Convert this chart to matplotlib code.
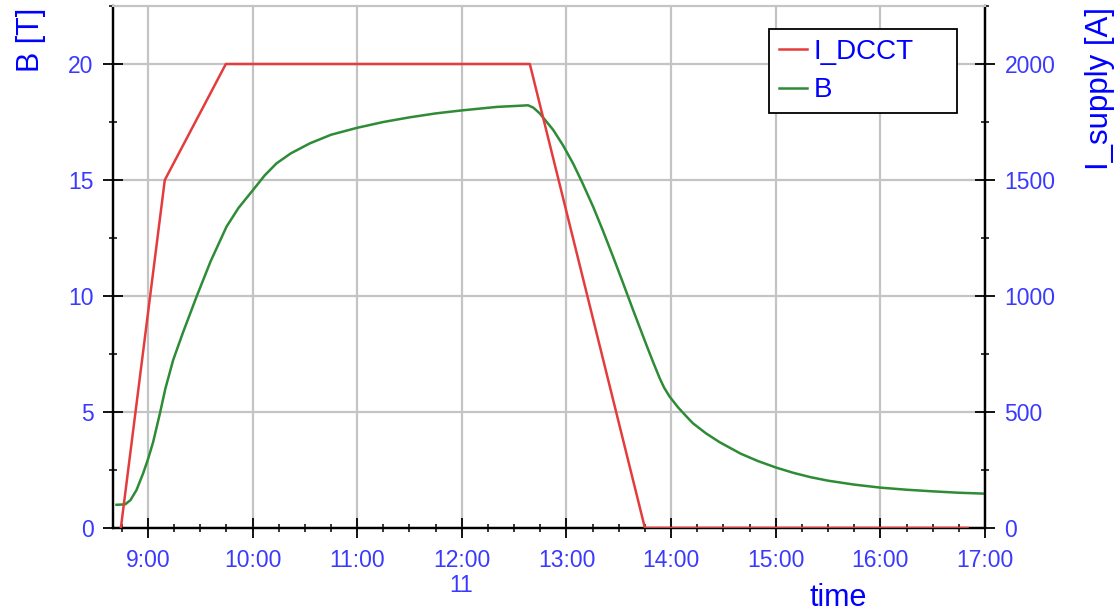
import matplotlib
matplotlib.use('Agg')
import matplotlib.pyplot as plt
from matplotlib.ticker import MultipleLocator, FuncFormatter

plt.rcParams['font.family'] = ['Liberation Sans', 'DejaVu Sans']

# I_DCCT [A] (right axis)
dcctTime = ['8:44.5', '9:09.7', '9:44.7', '12:39', '13:45', '16:50']
dcctAmp = [0, 1500, 2000, 2000, 0, 0]

# B [T] (left axis)
bTime = ['8:42', '8:47', '8:50', '8:53.5', '8:57.3', '9:00', '9:03', '9:06.9', '9:10',
         '9:14.5', '9:20', '9:27.9', '9:36', '9:45.1', '9:52', '10:00.3', '10:07',
         '10:13.8', '10:22', '10:32.9', '10:45', '11:00', '11:15', '11:30', '11:45',
         '12:00', '12:20', '12:33', '12:38', '12:41', '12:44.7', '12:52.4', '12:58',
         '13:03.9', '13:09', '13:15.3', '13:21', '13:26.7', '13:32', '13:38.2', '13:45.8',
         '13:49.7', '13:53.5', '13:56', '13:59.2', '14:04', '14:08.9', '14:12.6', '14:20',
         '14:27.8', '14:40', '14:50', '15:00', '15:10', '15:20', '15:30', '15:45',
         '16:00', '16:15', '16:30', '16:45', '17:00']
bTesla = [1.0, 1.02, 1.2, 1.64, 2.36, 2.95, 3.7, 4.94, 6.0,
          7.24, 8.4, 9.97, 11.5, 12.99, 13.8, 14.57, 15.2,
          15.72, 16.15, 16.58, 16.95, 17.25, 17.5, 17.7, 17.87,
          18.0, 18.15, 18.2, 18.22, 18.12, 17.87, 17.16, 16.5,
          15.7, 14.9, 13.85, 12.8, 11.7, 10.65, 9.4, 7.9,
          7.15, 6.45, 6.05, 5.66, 5.2, 4.8, 4.51, 4.08,
          3.70, 3.20, 2.88, 2.61, 2.38, 2.19, 2.04, 1.87,
          1.74, 1.65, 1.58, 1.52, 1.48]


def toHours(s):
    h, m = s.split(':')
    return int(h) + float(m) / 60


dcctX = [toHours(t) for t in dcctTime]
bX = [toHours(t) for t in bTime]

blue = '#0000ff'
tickBlue = '#3a3aff'
gridGray = '#c4c4c4'

fig = plt.figure(figsize=(11.19, 6.16), dpi=100)
ax = fig.add_axes([113 / 1119, 88 / 616, 872 / 1119, 522 / 616])
ax2 = ax.twinx()

lineB, = ax.plot(bX, bTesla, color='#2e8b36', lw=1.8, label='B', zorder=3)
lineI, = ax2.plot(dcctX, dcctAmp, color='#e43c3c', lw=1.8, label='I_DCCT', zorder=3)

ax.set_xlim(toHours('8:40'), 17)
ax.set_ylim(0, 22.5)
ax2.set_ylim(0, 2250)

ax.xaxis.set_major_locator(MultipleLocator(1))
ax.xaxis.set_minor_locator(MultipleLocator(0.25))
ax.xaxis.set_major_formatter(FuncFormatter(lambda v, p: f'{int(round(v))}:00'))
ax.yaxis.set_major_locator(MultipleLocator(5))
ax.yaxis.set_minor_locator(MultipleLocator(2.5))
ax2.yaxis.set_major_locator(MultipleLocator(500))
ax2.yaxis.set_minor_locator(MultipleLocator(250))

for a in (ax, ax2):
    a.tick_params(which='major', direction='inout', length=14, width=1.3,
                  labelsize=16.5, labelcolor=tickBlue, pad=7)
    a.tick_params(which='minor', direction='inout', length=6, width=1.1)
    for side in ('left', 'right', 'bottom'):
        a.spines[side].set_linewidth(1.6)
    a.spines['top'].set_color(gridGray)
    a.spines['top'].set_linewidth(1.5)
ax.tick_params(axis='x', which='major', pad=8)

ax.grid(True, which='major', color=gridGray, lw=1.6)
ax.set_axisbelow(True)

ax.set_ylabel('B [T]', fontsize=22, color=blue)
ax.yaxis.set_label_coords((31 - 113) / 872, (528 - 40) / 522)
ax.yaxis.label.set_va('center')
ax2.set_ylabel('I_supply [A]', fontsize=22.5, color=blue)
ax2.yaxis.set_label_coords((1100 - 113) / 872, (528 - 89) / 522)
ax2.yaxis.label.set_va('center')
ax2.yaxis.label.set_rotation(90)

ax.set_xlabel('time', fontsize=22, color=blue)
ax.xaxis.set_label_coords((838 - 113) / 872, (528 - 598) / 522)
ax.xaxis.label.set_va('center')

fig.text(461 / 1119, 1 - 585 / 616, '11', fontsize=16.5, color=tickBlue,
         ha='center', va='center')

leg = ax2.legend([lineI, lineB], ['I_DCCT', 'B'], loc='upper left',
                 bbox_to_anchor=(769 / 1119, 1 - 29 / 616, 188 / 1119, 0),
                 bbox_transform=fig.transFigure, mode='expand',
                 fontsize=20, frameon=True, fancybox=False, edgecolor='black',
                 framealpha=1, handlelength=1.0, handletextpad=0.25,
                 labelspacing=0.45, borderpad=0.35, borderaxespad=0)
leg.get_frame().set_linewidth(1.3)
for t in leg.get_texts():
    t.set_color(blue)

fig.savefig('out.png', dpi=100)
